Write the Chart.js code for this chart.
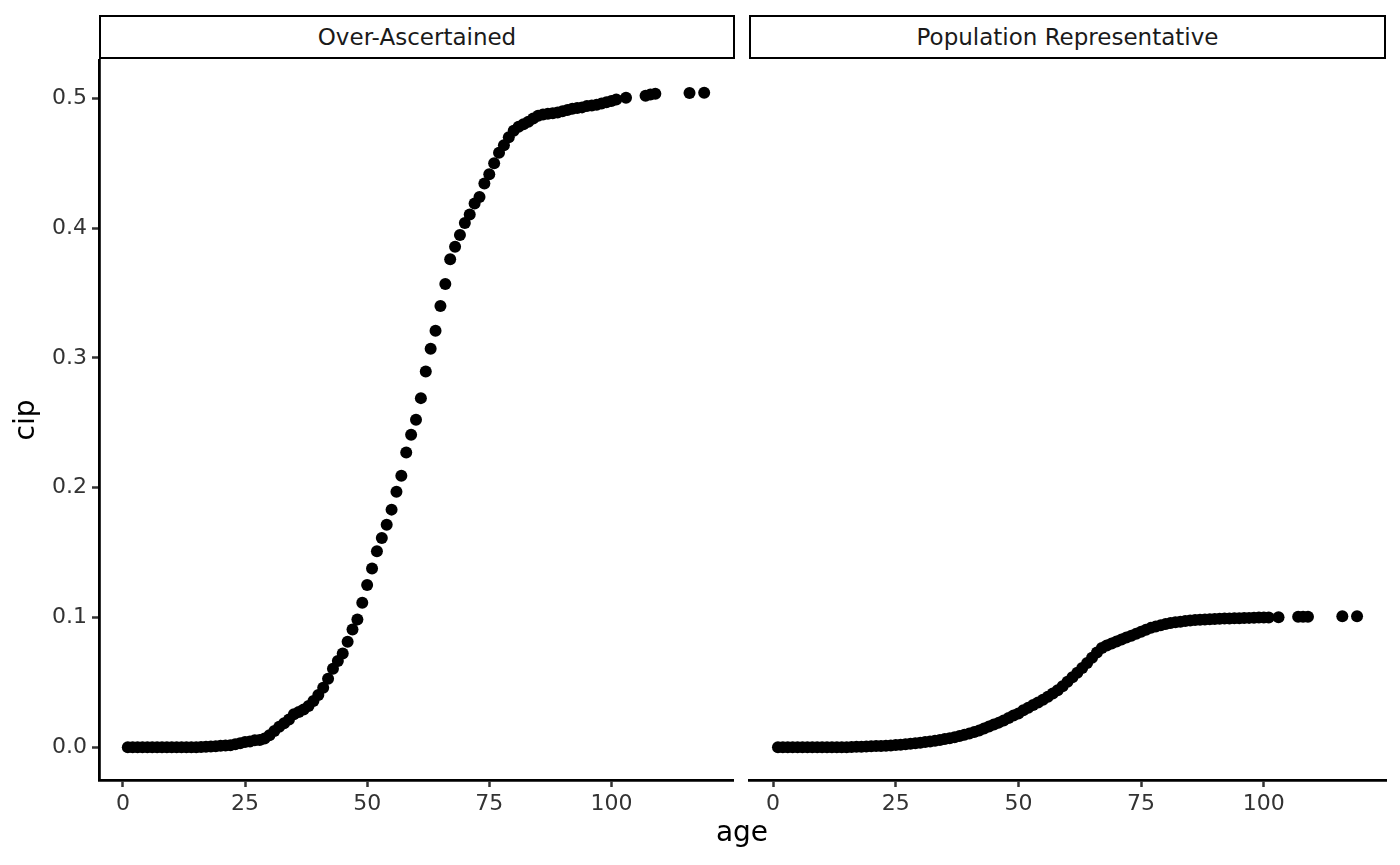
<!DOCTYPE html>
<html>
<head>
<meta charset="utf-8">
<script src="https://cdn.jsdelivr.net/npm/chart.js@4.4.1/dist/chart.umd.min.js"></script>
<style>
    html, body { margin: 0; padding: 0; background: #fff; }
    #wrap { position: relative; width: 1400px; height: 865px; font-family: "DejaVu Sans", sans-serif; }
    .panel { position: absolute; top: 0; height: 865px; }
    .strip {
        position: absolute; top: 15px; height: 44px; box-sizing: border-box;
        border: 2.5px solid #000; background: #fff; color: #1a1a1a;
        font-size: 23px; line-height: 40px; text-align: center;
    }
    #ageTitle { position: absolute; left: 642px; width: 200px; top: 815px; text-align: center; font-size: 28px; color: #000; }
</style>
</head>
<body>
<div id="wrap">
    <div class="panel" style="left:0;width:740px;"><canvas id="leftChart"></canvas></div>
    <div class="panel" style="left:740px;width:660px;"><canvas id="rightChart"></canvas></div>
    <div class="strip" style="left:99px;width:636px;">Over-Ascertained</div>
    <div class="strip" style="left:749px;width:637px;">Population Representative</div>
    <div id="ageTitle">age</div>
</div>
<script>
// ages observed in both groups
const ages = [];
for (let a = 1; a <= 101; a++) ages.push(a);
ages.push(103, 107, 108, 109, 116, 119);

// cip, one value per age above
const cipOver = [
    0.0000, 0.0000, 0.0000, 0.0000, 0.0000, 0.0000, 0.0000, 0.0000, 0.0000, 0.0000,
    0.0000, 0.0000, 0.0000, 0.0001, 0.0001, 0.0002, 0.0004, 0.0006, 0.0008, 0.0011,
    0.0013, 0.0015, 0.0023, 0.0031, 0.0041, 0.0044, 0.0054, 0.0056, 0.0067, 0.0092,
    0.0125, 0.0159, 0.0185, 0.0215, 0.0254, 0.0272, 0.0292, 0.0318, 0.0356, 0.0402,
    0.0459, 0.0528, 0.0605, 0.0665, 0.0723, 0.0813, 0.0908, 0.0985, 0.1113, 0.1251,
    0.1377, 0.1510, 0.1613, 0.1715, 0.1831, 0.1969, 0.2092, 0.2272, 0.2408, 0.2523,
    0.2690, 0.2895, 0.3070, 0.3210, 0.3400, 0.3570, 0.3760, 0.3856, 0.3946, 0.4040,
    0.4105, 0.4190, 0.4240, 0.4344, 0.4415, 0.4500, 0.4580, 0.4638, 0.4700, 0.4750,
    0.4780, 0.4800, 0.4820, 0.4845, 0.4865, 0.4875, 0.4880, 0.4885, 0.4890, 0.4900,
    0.4910, 0.4920, 0.4925, 0.4930, 0.4940, 0.4945, 0.4950, 0.4960, 0.4970, 0.4980,
    0.4990,
    0.5005, 0.5020, 0.5030, 0.5035, 0.5040, 0.5043
];
const cipPop = [
    0.0000, 0.0000, 0.0000, 0.0000, 0.0000, 0.0000, 0.0000, 0.0000, 0.0000, 0.0000,
    0.0000, 0.0000, 0.0000, 0.0000, 0.0001, 0.0003, 0.0004, 0.0005, 0.0006, 0.0008,
    0.0009, 0.0010, 0.0012, 0.0014, 0.0017, 0.0020, 0.0023, 0.0027, 0.0031, 0.0035,
    0.0040, 0.0045, 0.0050, 0.0057, 0.0063, 0.0070, 0.0078, 0.0087, 0.0096, 0.0106,
    0.0117, 0.0130, 0.0144, 0.0160, 0.0175, 0.0190, 0.0207, 0.0225, 0.0245, 0.0260,
    0.0285, 0.0305, 0.0325, 0.0345, 0.0367, 0.0390, 0.0415, 0.0440, 0.0470, 0.0505,
    0.0540, 0.0575, 0.0610, 0.0650, 0.0690, 0.0730, 0.0765, 0.0785, 0.0800, 0.0815,
    0.0830, 0.0845, 0.0860, 0.0875, 0.0890, 0.0905, 0.0920, 0.0930, 0.0940, 0.0950,
    0.0957, 0.0963, 0.0968, 0.0972, 0.0976, 0.0980, 0.0983, 0.0985, 0.0987, 0.0989,
    0.0990, 0.0992, 0.0993, 0.0994, 0.0995, 0.0996, 0.0997, 0.0998, 0.0999, 0.0999,
    0.1000,
    0.1002, 0.1005, 0.1006, 0.1006, 0.1010, 0.1010
];

const xTicks = [0, 25, 50, 75, 100];
const yTicks = [0.0, 0.1, 0.2, 0.3, 0.4, 0.5];

function toPoints(values) {
    return ages.map((a, i) => ({ x: a, y: values[i] }));
}

const tickFont = { family: "DejaVu Sans", size: 22 };
const tickColor = "#333333";

function xScale() {
    return {
        type: "linear",
        min: -4.9,
        max: 124.9,
        afterBuildTicks: s => { s.ticks = xTicks.map(v => ({ value: v })); },
        afterFit: s => { s.height = 85; },
        grid: { drawOnChartArea: false, drawTicks: true, tickLength: 7, tickWidth: 2.5, tickColor: tickColor },
        border: { display: true, color: "#000", width: 2.8 },
        ticks: { font: tickFont, color: tickColor, padding: 4, maxRotation: 0 }
    };
}

function yScale(showAxis) {
    return {
        type: "linear",
        display: showAxis,
        min: -0.0252,
        max: 0.5295,
        afterBuildTicks: s => { s.ticks = yTicks.map(v => ({ value: v })); },
        afterFit: s => { s.width = showAxis ? 99 : 0; },
        grid: { drawOnChartArea: false, drawTicks: true, tickLength: 7, tickWidth: 2.5, tickColor: tickColor },
        border: { display: true, color: "#000", width: 2.8 },
        ticks: { font: tickFont, color: tickColor, padding: 5, callback: v => v.toFixed(1) },
        title: { display: true, text: "cip", color: "#000", font: { family: "DejaVu Sans", size: 28 }, padding: { top: 10, bottom: 0 } }
    };
}

function makeChart(id, values, showAxis, padding) {
    return new Chart(document.getElementById(id), {
        type: "scatter",
        data: {
            datasets: [{
                data: toPoints(values),
                backgroundColor: "#000",
                borderColor: "#000",
                borderWidth: 0,
                pointRadius: 6,
                pointHoverRadius: 6
            }]
        },
        options: {
            responsive: true,
            maintainAspectRatio: false,
            animation: false,
            clip: false,
            layout: { padding: padding },
            plugins: { legend: { display: false }, tooltip: { enabled: false } },
            scales: { x: xScale(), y: yScale(showAxis) }
        }
    });
}

makeChart("leftChart", cipOver, true, { top: 60, right: 7, left: 0, bottom: 0 });
makeChart("rightChart", cipPop, false, { top: 60, right: 14, left: 9, bottom: 0 });
</script>
</body>
</html>
